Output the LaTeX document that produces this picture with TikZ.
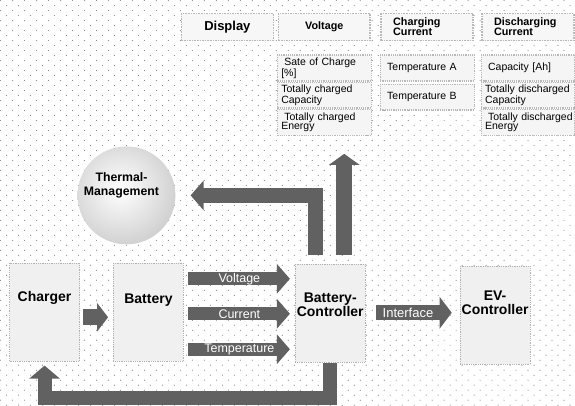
\documentclass[tikz,border=0pt]{standalone}
\usepackage{fontspec}
\setmainfont{Liberation Sans}
\usepackage{xcolor}
\usepackage{tikz}
\usetikzlibrary{positioning,arrows.meta}

\begin{document}
\begin{tikzpicture}[
  x=1pt, y=-1pt,
  scandot/.style={fill=black!45},
  box/.style={draw=gray!60, densely dotted, line width=0.8pt, fill=gray!12, minimum width=70pt, minimum height=98pt},
  boxtext/.style={font=\fontsize{14}{14}\selectfont\bfseries, align=center, inner sep=0pt},
  head/.style={draw=gray!55, densely dotted, line width=1.6pt, fill=gray!6, minimum width=92pt, minimum height=27pt, font=\fontsize{10.8}{10}\selectfont\bfseries, align=center, inner sep=2pt},
  headwide/.style={head, text width=68pt, inner xsep=12pt, align=left},
  item/.style={draw=gray!55, densely dotted, line width=1.2pt, fill=gray!8, minimum width=94pt, text width=86pt, inner xsep=4pt, inner ysep=1pt, minimum height=26pt, font=\fontsize{10.5}{9.5}\selectfont, align=left},
  blk/.style={line width=13pt, draw=black!62, -{Triangle[length=13pt, width=29pt]}},
  blklab/.style={text=white, font=\fontsize{12.5}{12.5}\selectfont, inner sep=0pt}
]
\fill[white] (0,0) rectangle (575,403);
\foreach \gx in {0,12,...,575} {
  \foreach \gy in {0,10,...,403} {
    \fill[scandot] (\gx,\gy) circle (0.6pt) (\gx+6,\gy+5) circle (0.6pt);
  }
}
\useasboundingbox (0,0) rectangle (575,403);

% display table
\node[head] (disp) at (227,26.5) {\fontsize{13}{13}\selectfont Display};
\node[head] (volt) at (324,26.5) {Voltage};
\node[headwide] (chg) at (427,26.5) {Charging\\Current};
\node[headwide] (dis) at (528,26.5) {Discharging\\Current};

\node[item, below=13pt of volt] (soc) {\hspace*{3pt}Sate of Charge\\{[\%]}};
\node[item, below=0pt of soc] (totcap) {Totally charged\\Capacity};
\node[item, below=0pt of totcap] (toten) {\hspace*{3pt}Totally charged\\Energy};
\node[item, below=13pt of chg] (tempa) {\hspace*{3pt}Temperature A};
\node[item, below=2pt of tempa] (tempb) {\hspace*{3pt}Temperature B};
\node[item, below=13pt of dis] (capah) {\hspace*{3pt}Capacity [Ah]};
\node[item, below=0pt of capah] (totdcap) {Totally discharged\\Capacity};
\node[item, below=0pt of totdcap] (totden) {\mbox{\hspace*{3pt}Totally discharged}\\Energy};

% thermal management
\node[circle, minimum size=98pt, path picture={
    \shade[inner color=white, outer color=gray!70]
      ([xshift=-6pt,yshift=6pt]path picture bounding box.center) circle (108pt);}] (thermal) at (126,195) {};
\node[boxtext, font=\fontsize{12.3}{14}\selectfont\bfseries] (thermaltxt) at (121,185) {Thermal-\\Management};

% main row
\node[box] (charger) at (44,312) {};
\node[box] (battery) at (148,312) {};
\node[box] (ctrl) at (330,313) {};
\node[box] (evc) at (495,315) {};
\node[boxtext] (chargertxt) at (44,298) {Charger};
\node[boxtext] (batterytxt) at (148,300) {Battery};
\node[boxtext] (ctrltxt) at (330,304) {Battery-\\Controller};
\node[boxtext] (evctxt) at (495,302) {EV-\\Controller};

\coordinate (tabtip) at ([xshift=20pt,yshift=-18pt]toten.south);

% connectors
\draw[blk, line width=16pt, -{Triangle[length=11pt, width=28pt]}, shorten <=3pt, shorten >=5pt]
  ([yshift=-5pt]charger.east) -- ([yshift=-5pt]battery.west);
\draw[blk, shorten <=4pt, shorten >=5pt] ([yshift=33.5pt]battery.east) -- ([yshift=33.5pt]battery.east -| ctrl.west)
  node[midway, blklab] (voltlab) {Voltage};
\draw[blk, shorten <=4pt, shorten >=5pt] ([yshift=-1.5pt]battery.east) -- ([yshift=-1.5pt]battery.east -| ctrl.west)
  node[midway, blklab] (currlab) {Current};
\draw[blk, shorten <=4pt, shorten >=5pt] ([yshift=-37pt]battery.east) -- ([yshift=-37pt]battery.east -| ctrl.west)
  node[midway, blklab] (templab) {Temperature};
\draw[blk, line width=15pt, -{Triangle[length=12pt, width=31pt]}, shorten <=10pt, shorten >=8pt]
  ([yshift=0.5pt]ctrl.east) -- ([yshift=0.5pt]ctrl.east -| evc.west)
  node[pos=0.45, blklab, font=\fontsize{13}{13}\selectfont] (intlab) {Interface};
\draw[blk, line width=16pt, -{Triangle[length=11pt, width=30pt]}, shorten <=9pt]
  (ctrl.north -| tabtip) -- (tabtip);
\draw[blk, line width=15pt, shorten <=9pt, shorten >=15pt]
  ([xshift=-14.5pt]ctrl.north) |- (thermal.east);
\draw[blk, line width=14pt, -{Triangle[length=13pt, width=30pt]}, shorten >=4pt]
  (ctrl.south) -- ++(0,35) -| (charger.south);
\end{tikzpicture}
\end{document}
